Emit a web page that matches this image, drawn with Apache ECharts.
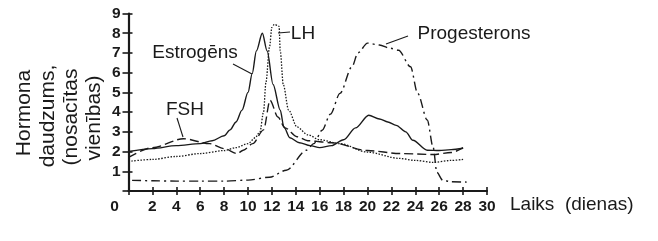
<!DOCTYPE html>
<html><head><meta charset="utf-8">
<script src="https://cdn.jsdelivr.net/npm/echarts@6/dist/echarts.min.js"></script>
<style>html,body{margin:0;padding:0;background:#fff}#c{width:658px;height:241px}</style>
</head><body><div id="c"></div>
<script>
// Data (day of cycle, hormone level in relative units)
const estrogenDays  = [0, 2, 4, 6, 7, 8, 8.5, 9, 9.5, 10, 10.35, 10.7, 11.2, 11.6, 12.1, 12.7, 13, 13.5, 14.3, 15.2, 16, 17, 18, 19, 20.1, 21, 21.7, 22.4, 23.2, 23.8, 25, 26, 27, 28];
const estrogenLevel = [2.0, 2.15, 2.3, 2.4, 2.55, 2.8, 3.1, 3.5, 4.1, 5.0, 5.95, 7.1, 8.0, 7.1, 5.4, 4.1, 3.25, 2.7, 2.45, 2.3, 2.2, 2.3, 2.6, 3.2, 3.84, 3.65, 3.5, 3.33, 3.0, 2.57, 2.07, 2.05, 2.1, 2.17];

const lhDays  = [0, 2, 4, 6, 8, 9, 10, 10.6, 11.0, 11.3, 11.5, 11.8, 12.0, 12.2, 12.6, 12.7, 12.95, 13.4, 14.1, 15, 16, 17.7, 20, 22.7, 24, 25.5, 27, 28];
const lhLevel = [1.5, 1.6, 1.75, 1.9, 2.05, 2.2, 2.4, 2.7, 3.0, 4.0, 5.5, 7.3, 8.3, 8.45, 8.35, 7.1, 5.4, 4.1, 3.25, 2.85, 2.6, 2.4, 1.97, 1.65, 1.55, 1.45, 1.55, 1.6];

const fshDays  = [0, 2, 4.6, 6.8, 8, 9.1, 9.6, 10.4, 11.3, 11.85, 12.5, 13.1, 14.1, 15, 17, 20, 22.7, 25.5, 27, 28];
const fshLevel = [1.7, 2.2, 2.65, 2.4, 2.15, 1.9, 2.07, 2.4, 3.1, 4.6, 3.75, 3.2, 2.75, 2.55, 2.45, 2.05, 1.9, 1.85, 1.95, 2.2];

const progDays  = [0.3, 2, 4, 6, 8, 10, 11.8, 13.2, 14.9, 15.5, 16.2, 16.9, 17.7, 18.7, 19.2, 20, 21, 21.9, 22.6, 23.6, 24.2, 25, 25.5, 25.8, 26.3, 27, 28.3];
const progLevel = [0.54, 0.52, 0.5, 0.5, 0.5, 0.55, 0.7, 1.05, 2.07, 2.4, 3.08, 3.9, 4.95, 6.3, 7.0, 7.5, 7.4, 7.24, 7.14, 6.3, 4.95, 3.6, 2.2, 0.95, 0.54, 0.47, 0.45];

const xTicks = [0, 30, 2];   // min, max, interval
const yTicks = [0, 9, 1];

const pairs = (xs, ys) => xs.map((x, i) => [x, ys[i]]);

const tickFont = "'Liberation Sans', Arial, sans-serif";
const textFont = "'Liberation Sans', Arial, sans-serif";
const ink = '#1a1a1a';

function series(name, xs, ys, type, width) {
  return {
    name, type: 'line', data: pairs(xs, ys), showSymbol: false, symbol: 'none',
    smooth: 0.3, smoothMonotone: 'x', silent: true,
    lineStyle: { color: ink, width: width || 1.4, type }
  };
}

const chart = echarts.init(document.getElementById('c'), null, { renderer: 'canvas' });

const txt = (t, x, y, size, extra) => Object.assign({
  type: 'text', x, y,
  style: { text: t, font: `${size}px ${textFont}`, fill: ink, align: 'center', verticalAlign: 'middle' }
}, extra || {});
const seg = (x1, y1, x2, y2) => ({
  type: 'line', shape: { x1, y1, x2, y2 }, style: { stroke: ink, lineWidth: 1.1 }
});

chart.setOption({
  animation: false,
  grid: { left: 128.5, right: 171, top: 13.5, bottom: 50 },
  xAxis: [{
    type: 'value', min: xTicks[0], max: xTicks[1], interval: xTicks[2],
    axisLine: { show: true, onZero: false, lineStyle: { color: ink, width: 2.2 } },
    axisTick: { show: true, length: 4, lineStyle: { color: ink, width: 1.6 } },
    splitLine: { show: false },
    axisLabel: {
      margin: 8, color: ink, fontFamily: tickFont, fontWeight: 'bold', fontSize: 15.5,
      formatter: v => v === 0 ? '{z|0}' : String(v),
      rich: { z: { fontFamily: tickFont, fontWeight: 'bold', fontSize: 15.5, color: ink, padding: [0, 28, 0, 0] } }
    }
  }, {
    type: 'value', position: 'bottom', min: xTicks[0], max: xTicks[1], interval: xTicks[2],
    axisLine: { show: false, onZero: false },
    axisTick: { show: true, inside: true, length: 4, lineStyle: { color: ink, width: 1.6 } },
    axisLabel: { show: false }, splitLine: { show: false }
  }],
  yAxis: [{
    type: 'value', min: yTicks[0], max: yTicks[1], interval: yTicks[2],
    axisLine: { show: true, onZero: false, lineStyle: { color: ink, width: 2.2 } },
    axisTick: { show: true, length: 6, lineStyle: { color: ink, width: 1.6 } },
    splitLine: { show: false },
    axisLabel: {
      margin: 8, color: ink, fontFamily: tickFont, fontWeight: 'bold', fontSize: 15.5,
      formatter: v => v === 0 ? '' : String(v)
    }
  }, {
    type: 'value', position: 'left', min: yTicks[0], max: yTicks[1], interval: yTicks[2],
    axisLine: { show: false, onZero: false },
    axisTick: { show: true, inside: true, length: 4, lineStyle: { color: ink, width: 1.6 } },
    axisLabel: { show: false }, splitLine: { show: false }
  }],
  series: [
    series('Estrogēns', estrogenDays, estrogenLevel, 'solid', 1.4),
    series('LH', lhDays, lhLevel, [1.5, 1.5], 1.3),
    series('FSH', fshDays, fshLevel, [9, 4], 1.4),
    series('Progesterons', progDays, progLevel, [9, 4, 2, 4], 1.4)
  ],
  graphic: [
    txt('Hormona', 24, 113, 21, { rotation: Math.PI / 2 }),
    txt('daudzums,', 48, 116, 21, { rotation: Math.PI / 2 }),
    txt('(nosacītas', 71, 117, 21, { rotation: Math.PI / 2 }),
    txt('vienības)', 94, 118, 21, { rotation: Math.PI / 2 }),
    txt('Estrogēns', 195, 53, 19),
    seg(233, 64, 252, 74),
    txt('LH', 303, 34, 19),
    seg(278, 33, 290, 32),
    txt('FSH', 185, 110, 19),
    seg(177, 118, 183, 137),
    txt('Progesterons', 474, 34, 19),
    seg(408, 36, 386, 44),
    { type: 'text', x: 510, y: 205, style: { text: 'Laiks  (dienas)', font: `19px ${textFont}`, fill: ink, align: 'left', verticalAlign: 'middle' } }
  ]
});
</script>
</body></html>
